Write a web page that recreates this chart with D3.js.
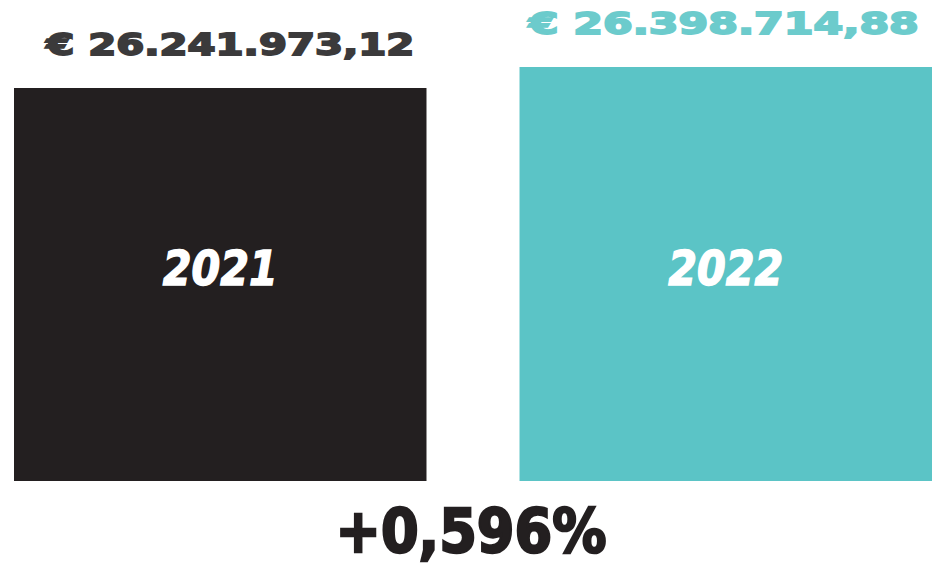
<!DOCTYPE html>
<html>
<head>
<meta charset="utf-8">
<script src="https://cdn.jsdelivr.net/npm/d3@7"></script>
<style>
  html, body { margin: 0; padding: 0; background: #fff; }
  text { font-family: "DejaVu Sans", sans-serif; font-weight: bold; }
</style>
</head>
<body>
<div id="chart"></div>
<script>
// Data
const years = ["2021", "2022"];
const amounts = [26241973.12, 26398714.88];
const amountLabels = ["€ 26.241.973,12", "€ 26.398.714,88"];
const changeLabel = "+0,596%";

const width = 932;
const height = 567;

const barColors = ["#231f20", "#5bc4c6"];
const labelColors = ["#3b3a3b", "#6ccbcc"];

const svg = d3.select('#chart')
    .append('svg')
    .attr('width', width)
    .attr('height', height);

// x band scale for the two bars
const x = d3.scaleBand()
    .domain(years)
    .range([14, 932])
    .paddingInner(0.184)
    .paddingOuter(0);

// the original uses a truncated baseline
const y = d3.scaleLinear()
    .domain([23309000, 26398714.88])
    .range([481, 67]);

// Bars
svg.append('g')
    .selectAll('rect')
    .data(years)
    .enter()
    .append('rect')
    .attr('x', d => x(d))
    .attr('y', (d, i) => y(amounts[i]))
    .attr('width', x.bandwidth())
    .attr('height', (d, i) => y.range()[0] - y(amounts[i]))
    .style('fill', (d, i) => barColors[i]);

// Value labels above bars (stretched to mimic the wide heavy face)
svg.append('g')
    .selectAll('text')
    .data(years)
    .enter()
    .append('text')
    .attr('x', (d, i) => x(d) + x.bandwidth() / 2 + (i === 0 ? 10 : -2))
    .attr('y', (d, i) => y(amounts[i]) - 33)
    .attr('text-anchor', 'middle')
    .attr('textLength', (d, i) => i === 0 ? 368 : 390)
    .attr('lengthAdjust', 'spacingAndGlyphs')
    .style('font-size', '30px')
    .style('fill', (d, i) => labelColors[i])
    .style('stroke', (d, i) => labelColors[i])
    .style('stroke-width', 1.8)
    .text((d, i) => amountLabels[i]);

// Year labels inside bars
svg.append('g')
    .selectAll('text')
    .data(years)
    .enter()
    .append('text')
    .attr('x', d => x(d) + x.bandwidth() / 2)
    .attr('y', 285)
    .attr('text-anchor', 'middle')
    .attr('textLength', 115)
    .attr('lengthAdjust', 'spacingAndGlyphs')
    .style('font-size', '48px')
    .style('font-style', 'italic')
    .style('fill', '#fff')
    .style('stroke', '#fff')
    .style('stroke-width', 1.5)
    .text(d => d);

// Change label at the bottom
svg.append('text')
    .attr('x', 471)
    .attr('y', 552)
    .attr('text-anchor', 'middle')
    .attr('textLength', 271)
    .attr('lengthAdjust', 'spacingAndGlyphs')
    .style('font-size', '60px')
    .style('fill', '#231f20')
    .style('stroke', '#231f20')
    .style('stroke-width', 2.5)
    .text(changeLabel);
</script>
</body>
</html>
